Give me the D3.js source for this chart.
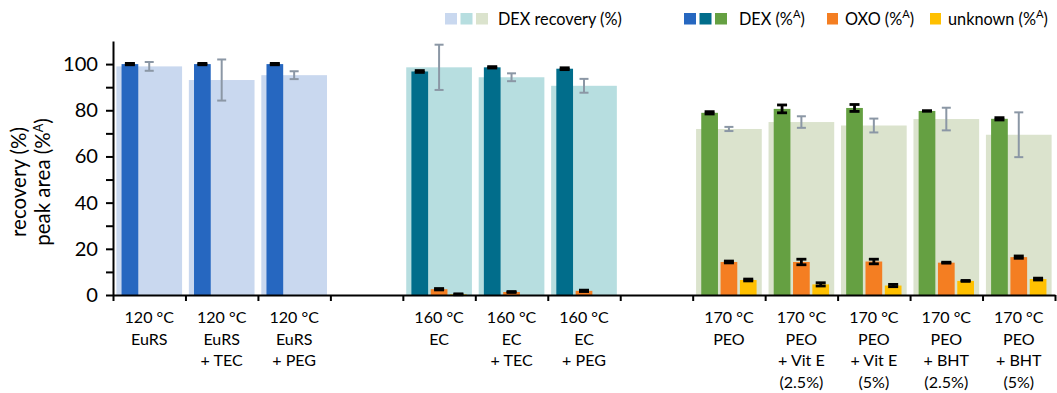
<!DOCTYPE html>
<html>
<head>
<meta charset="utf-8">
<script src="https://cdn.jsdelivr.net/npm/d3@7"></script>
<style>
  body { margin: 0; background: #fff; }
  svg { display: block; font-family: Lato, "Open Sans", sans-serif; }
</style>
</head>
<body>
<svg id="chart" width="1057" height="393"></svg>
<script>
// Formulation categories (empty slots separate the polymer groups)
const categories = [
  ["120 °C", "EuRS"], ["120 °C", "EuRS", "+ TEC"], ["120 °C", "EuRS", "+ PEG"], [],
  ["160 °C", "EC"], ["160 °C", "EC", "+ TEC"], ["160 °C", "EC", "+ PEG"], [],
  ["170 °C", "PEO"], ["170 °C", "PEO", "+ Vit E", "(2.5%)"], ["170 °C", "PEO", "+ Vit E", "(5%)"],
  ["170 °C", "PEO", "+ BHT", "(2.5%)"], ["170 °C", "PEO", "+ BHT", "(5%)"]
];
const polymer = ["EuRS", "EuRS", "EuRS", null, "EC", "EC", "EC", null, "PEO", "PEO", "PEO", "PEO", "PEO"];

// DEX recovery (%) with standard deviation
const recovery    = [99.0, 93.1, 95.2, null, 98.6, 94.3, 90.6, null, 71.9, 74.9, 73.4, 76.2, 69.4];
const recoveryErr = [1.9, 8.9, 1.7, null, 9.8, 1.7, 3.0, null, 0.9, 2.5, 3.0, 4.9, 9.7];

// Peak area shares (%A) with standard deviation
const dex        = [100, 100, 100, null, 96.8, 98.6, 98.0, null, 78.9, 80.6, 81.0, 79.7, 76.3];
const dexErr     = [0.3, 0.3, 0.3, null, 0.4, 0.3, 0.4, null, 0.5, 1.7, 1.5, 0.1, 0.5];
const oxo        = [null, null, null, null, 2.5, 1.3, 1.8, null, 14.3, 14.3, 14.5, 14.0, 16.4];
const oxoErr     = [null, null, null, null, 0.3, 0.2, 0.3, null, 0.4, 1.2, 1.0, 0.2, 0.5];
const unknown    = [null, null, null, null, 0.3, null, null, null, 6.5, 4.6, 4.1, 6.1, 6.9];
const unknownErr = [null, null, null, null, 0.2, null, null, null, 0.4, 0.7, 0.5, 0.2, 0.4];

const yTicks = d3.range(0, 101, 10);
const yLabelTicks = [0, 20, 40, 60, 80, 100];

const darkColor  = { EuRS: "#2667c0", EC: "#016d8b", PEO: "#65a042" };
const lightColor = { EuRS: "#c9d8ef", EC: "#b7dee0", PEO: "#dbe3cd" };
const oxoColor = "#f47e22";
const unknownColor = "#ffc000";
const recErrColor = "#8b97a5";
const textColor = "#000";

const svg = d3.select("#chart");
const plotLeft = 113, plotRight = 1055, plotTop = 41, plotBottom = 295;

// Font size at which a sample string spans the given width
function fitSize(sample, width) {
  const t = svg.append("text").attr("font-size", 100).text(sample);
  const w = t.node().getComputedTextLength();
  t.remove();
  return 100 * width / w;
}
const legendSize = fitSize("DEX recovery (%)", 124);
const catSize = fitSize("170 °C", 49.5);
const tickSize = fitSize("100", 35);
const titleSize = fitSize("recovery (%)", 110);

const y = d3.scaleLinear().domain([0, 110]).range([plotBottom, plotTop]);
const slot = d3.scaleBand().domain(d3.range(categories.length)).range([plotLeft, plotRight]);
const slotEdge = d3.scaleLinear().domain([0, categories.length]).range([plotLeft, plotRight]);
const inner = d3.scaleBand().domain(["dex", "oxo", "unknown"]).range([0, slot.bandwidth()])
  .paddingInner(0.135).paddingOuter(0.443);
const recBand = d3.scaleBand().domain(["rec"]).range([0, slot.bandwidth()]).padding(0.049);

const idx = d3.range(categories.length);

// Recovery bars (background)
svg.append("g").selectAll("rect")
  .data(idx.filter(i => recovery[i] != null))
  .join("rect")
  .attr("x", i => slot(i) + recBand("rec"))
  .attr("width", recBand.bandwidth())
  .attr("y", i => y(recovery[i]))
  .attr("height", i => y(0) - y(recovery[i]))
  .attr("fill", i => lightColor[polymer[i]]);

// Error bars: vertical whisker with a cap at each end
function errorBars(g, values, errs, xCenter, color, cap, width) {
  const data = idx.filter(i => values[i] != null && errs[i] != null);
  const grp = g.append("g").attr("stroke", color).attr("stroke-width", width).attr("fill", "none");
  grp.selectAll("line.v").data(data).join("line").attr("class", "v")
    .attr("x1", xCenter).attr("x2", xCenter)
    .attr("y1", i => y(values[i] - errs[i])).attr("y2", i => y(values[i] + errs[i]));
  grp.selectAll("line.t").data(data).join("line").attr("class", "t")
    .attr("x1", i => xCenter(i) - cap / 2).attr("x2", i => xCenter(i) + cap / 2)
    .attr("y1", i => y(values[i] + errs[i])).attr("y2", i => y(values[i] + errs[i]));
  grp.selectAll("line.b").data(data).join("line").attr("class", "b")
    .attr("x1", i => xCenter(i) - cap / 2).attr("x2", i => xCenter(i) + cap / 2)
    .attr("y1", i => y(values[i] - errs[i])).attr("y2", i => y(values[i] - errs[i]));
}

errorBars(svg, recovery, recoveryErr, i => slot(i) + slot.bandwidth() / 2, recErrColor, 9, 2);

// Peak area bars
const series = [
  { key: "dex", values: dex, errs: dexErr, color: i => darkColor[polymer[i]] },
  { key: "oxo", values: oxo, errs: oxoErr, color: () => oxoColor },
  { key: "unknown", values: unknown, errs: unknownErr, color: () => unknownColor }
];

series.forEach(s => {
  svg.append("g").selectAll("rect")
    .data(idx.filter(i => s.values[i] != null))
    .join("rect")
    .attr("x", i => slot(i) + inner(s.key))
    .attr("width", inner.bandwidth())
    .attr("y", i => y(s.values[i]))
    .attr("height", i => y(0) - y(s.values[i]))
    .attr("fill", i => s.color(i));
});
series.forEach(s => {
  errorBars(svg, s.values, s.errs, i => slot(i) + inner(s.key) + inner.bandwidth() / 2, "#000", 10, 2.8);
});

// Y axis
const yAxis = svg.append("g")
  .attr("transform", `translate(${plotLeft},0)`)
  .call(d3.axisLeft(y).tickValues(yTicks)
    .tickFormat(d => yLabelTicks.includes(d) ? d : "")
    .tickSize(7).tickSizeOuter(0).tickPadding(8));
yAxis.select(".domain").attr("stroke", "#000").attr("stroke-width", 2);
yAxis.selectAll(".tick line").attr("stroke", "#000").attr("stroke-width", 2);
yAxis.selectAll(".tick text").attr("font-size", tickSize).attr("fill", textColor)
  .style("font-family", "Lato, sans-serif");

// X axis with ticks at slot boundaries
const xAxis = svg.append("g")
  .attr("transform", `translate(0,${plotBottom})`)
  .call(d3.axisBottom(slotEdge).tickValues(d3.range(categories.length + 1))
    .tickFormat("").tickSize(6).tickSizeOuter(0));
xAxis.select(".domain").attr("stroke", "#000").attr("stroke-width", 2);
xAxis.selectAll(".tick line").attr("stroke", "#000").attr("stroke-width", 2);

// Category labels
const labels = svg.append("g").attr("font-size", catSize).attr("fill", textColor).attr("text-anchor", "middle");
labels.selectAll("text").data(idx).join("text")
  .attr("transform", i => `translate(${slot(i) + slot.bandwidth() / 2},323.3)`)
  .selectAll("tspan").data(i => categories[i]).join("tspan")
  .attr("x", 0).attr("y", (d, k) => k * 21.6).text(d => d);

// Y axis title
const title = svg.append("g").attr("font-size", titleSize).attr("fill", textColor).attr("text-anchor", "middle");
title.append("text").attr("transform", "translate(26,182) rotate(-90)").text("recovery (%)");
const t2 = title.append("text").attr("transform", "translate(50,182) rotate(-90)");
t2.append("tspan").text("peak area (%");
t2.append("tspan").attr("font-size", titleSize * 0.62).attr("dy", -titleSize * 0.34).text("A");
t2.append("tspan").attr("dy", titleSize * 0.34).text(")");

// Legend
const legend = svg.append("g").attr("font-size", legendSize).attr("fill", textColor);
const sw = 12, step = 15.5, swTop = 13;
const lightKeys = ["EuRS", "EC", "PEO"];
legend.selectAll("rect.l").data(lightKeys).join("rect").attr("class", "l")
  .attr("x", (d, k) => 445 + k * step).attr("y", swTop).attr("width", sw).attr("height", 11.5)
  .attr("fill", d => lightColor[d]);
legend.append("text").attr("x", 498).attr("y", 24.5).text("DEX recovery (%)");

legend.selectAll("rect.d").data(lightKeys).join("rect").attr("class", "d")
  .attr("x", (d, k) => 684 + k * step).attr("y", swTop).attr("width", sw).attr("height", 11.5)
  .attr("fill", d => darkColor[d]);

function supLabel(x, txt) {
  const t = legend.append("text").attr("x", x).attr("y", 24.5);
  t.append("tspan").text(txt + " (%");
  t.append("tspan").attr("font-size", legendSize * 0.68).attr("dy", -legendSize * 0.38).text("A");
  t.append("tspan").attr("dy", legendSize * 0.38).text(")");
}
supLabel(739, "DEX");
legend.append("rect").attr("x", 827).attr("y", swTop).attr("width", 11).attr("height", 11.5).attr("fill", oxoColor);
supLabel(845, "OXO");
legend.append("rect").attr("x", 930).attr("y", swTop).attr("width", 11).attr("height", 11.5).attr("fill", unknownColor);
supLabel(948, "unknown");
</script>
</body>
</html>
